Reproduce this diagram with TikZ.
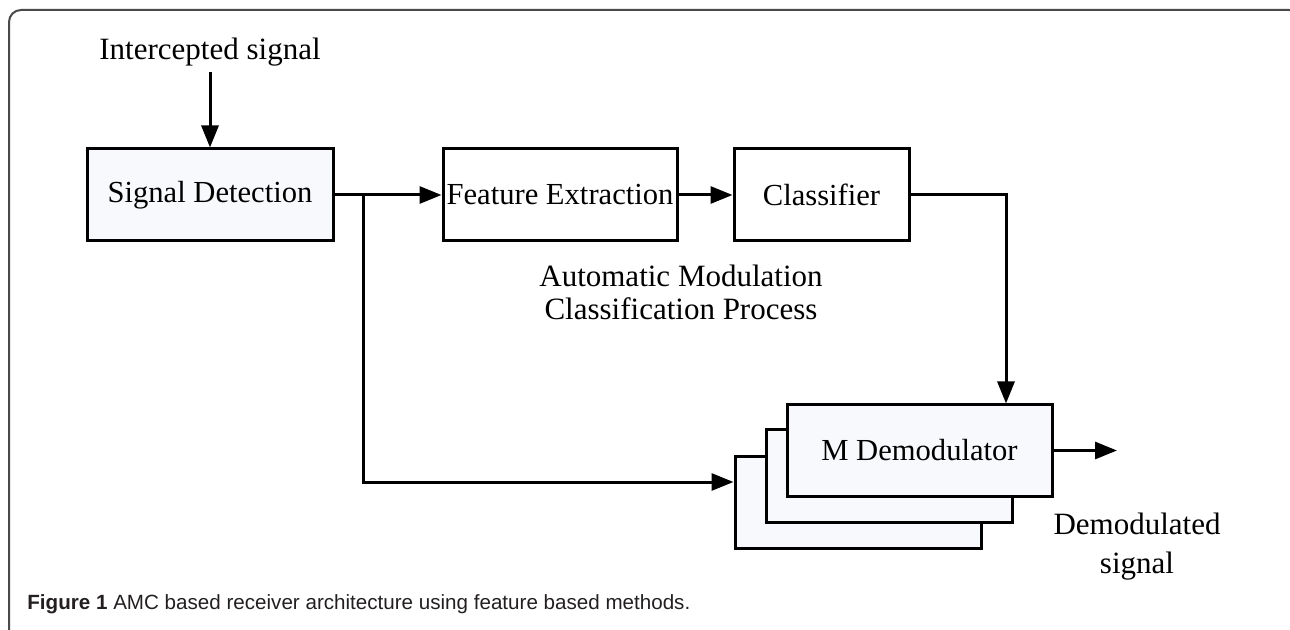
\documentclass[tikz,border=0pt]{standalone}
\usepackage{fontspec}
\setmainfont{Liberation Serif}
\newfontfamily\capfont{Liberation Sans}
\usetikzlibrary{positioning,arrows.meta}
\definecolor{boxfill}{HTML}{F7F9FC}
\definecolor{framegray}{HTML}{4A4A4A}
\definecolor{captext}{HTML}{231F20}
\tikzstyle{arrow} = [line width=1.5pt,-{Triangle[length=11pt,width=8.5pt]}]

\begin{document}
\begin{tikzpicture}[x=0.5pt,y=-0.5pt]
\tikzset{block/.style={draw,line width=1.5pt,inner sep=0pt,minimum height=46pt,font=\fontsize{15.3}{17}\selectfont},
  labeltext/.style={align=center,inner sep=0pt,font=\fontsize{15.5}{16.5}\selectfont}}
\useasboundingbox (0,0) rectangle (1290,630);
\begin{scope}
\clip (0,0) rectangle (1290,630);
\draw[framegray,line width=1pt,rounded corners=6pt] (9,660) -- (9,10) -- (1301,10) -- (1301,660);
\end{scope}

\node[labeltext] (insig) at (210,52) {Intercepted signal};
\node[block,fill=boxfill,minimum width=123pt] (sd) at (210,195) {Signal Detection};
\node[block,fill=white,minimum width=117pt] (fe) at (560,195) {Feature Extraction};
\node[block,fill=white,minimum width=87.5pt] (cls) at (821.5,195) {Classifier};
\node[labeltext] (amc) at (681,292) {Automatic Modulation\\Classification Process};

\node[block,fill=boxfill,minimum width=123pt] (demodback) at (858,502) {};
\node[block,fill=boxfill,minimum width=123pt] (demodmid) at (889,476) {};
\node[block,fill=boxfill,minimum width=132.5pt,minimum height=45.5pt] (demod) at (919.5,450.5) {M Demodulator};
\node[labeltext,font=\fontsize{15.5}{19.5}\selectfont] (demodsig) at (1137,547) {Demodulated\\signal};

\coordinate (split) at (363,195);
\coordinate (low) at (363,482);
\coordinate (turn) at (1006,195);
\coordinate (out) at (1117,450.5);

\draw[arrow,shorten <=3pt] (insig) -- (sd);
\draw[arrow] (sd) -- (fe);
\draw[arrow] (fe) -- (cls);
\draw[arrow] (split) -- (low) -- (low -| demodback.west);
\draw[arrow] (cls) -- (turn) -- (turn |- demod.north);
\draw[arrow] (demod) -- (out);

\node[anchor=west,inner sep=0pt,text=captext,font=\capfont\fontsize{10.3}{12}\selectfont] (cap) at (27,604)
  {\textbf{Figure 1} AMC based receiver architecture using feature based methods.};
\end{tikzpicture}
\end{document}
